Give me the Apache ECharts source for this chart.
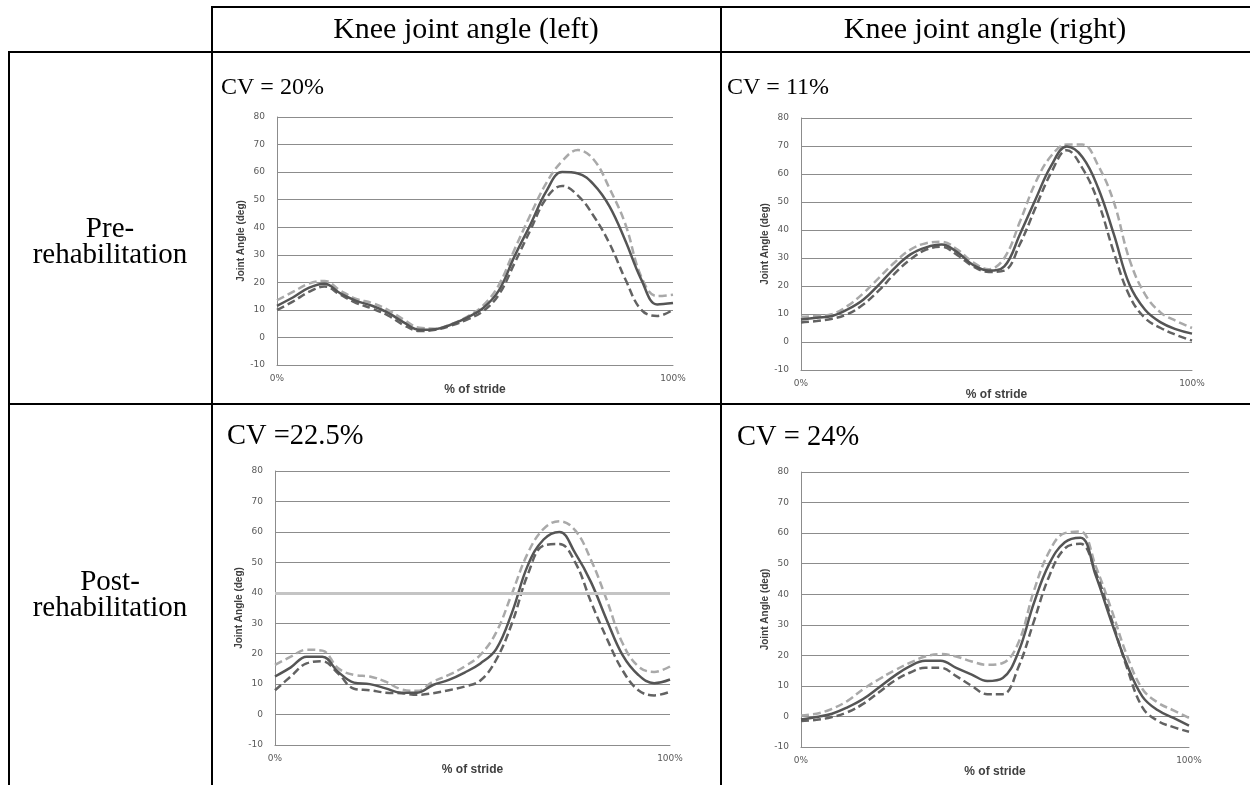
<!DOCTYPE html>
<html>
<head>
<meta charset="utf-8">
<script src="https://cdn.jsdelivr.net/npm/echarts@6/dist/echarts.min.js"></script>
<style>
  html, body { margin: 0; padding: 0; background: #fff; }
  #myChart { width: 1250px; height: 785px; }
</style>
</head>
<body>
<div id="myChart"></div>
<script>
// % of stride, every 4%
const stride = [0, 4, 8, 12, 16, 20, 24, 28, 32, 36, 40, 44, 48, 52, 56, 60, 64, 68, 72, 76, 80, 84, 88, 92, 96, 100]

// Pre-rehabilitation, left knee
const preLeftMean = [11.5, 14.5, 18, 19.5, 16, 13.3, 11.5, 9, 5.5, 2.8, 3, 4.7, 7.2, 10.6, 17, 29.5, 41, 53, 60, 59.5, 55.5, 47.5, 35, 21, 12, 12.5]
const preLeftUpper = [13.5, 16.5, 19.5, 20.5, 17, 14, 12.5, 10, 6.5, 3.5, 3.2, 4.8, 7.5, 11.5, 19, 32, 44.5, 56, 64, 68, 64.5, 54, 41, 22, 15, 15.5]
const preLeftLower = [10, 13, 16.5, 18.5, 15.5, 12.5, 10.5, 8, 4.5, 2.3, 2.8, 4.3, 6.5, 9.5, 15.5, 27, 39, 50.5, 55, 51.5, 44, 34, 21, 10, 7.8, 10]

// Pre-rehabilitation, right knee
const preRightMean = [8, 8.7, 9.3, 11.7, 15.2, 20.6, 26.5, 31.3, 33.8, 34.8, 32, 27.5, 25.5, 27, 38.5, 51, 63, 69.8, 66, 55, 38.5, 20.5, 11.5, 7, 4.5, 3]
const preRightUpper = [9, 9.3, 10, 13, 17.5, 23, 28.5, 33, 35.3, 35.8, 33, 28.5, 26, 30, 43, 57, 66.5, 70.5, 70.5, 63, 50, 29.5, 17, 10.5, 7.5, 5]
const preRightLower = [7, 7.5, 8.3, 10, 13.5, 18.5, 24.5, 29.5, 33, 34, 31, 27, 25, 25.5, 35, 48, 60.5, 68.5, 62, 50, 32, 16.5, 8.5, 5, 2.5, 0.5]

// Post-rehabilitation, left knee
const postLeftMean = [12.5, 15.5, 19, 19, 14, 10.5, 10, 8.6, 7.2, 7.2, 9.7, 11.4, 13.8, 16.8, 21.5, 33.5, 49, 57.5, 60, 53, 43.5, 31, 19.5, 13, 10.3, 11.5]
const postLeftUpper = [16.3, 19, 21.3, 21, 15.2, 13, 12.5, 10.8, 8.3, 7.8, 10.8, 13, 15.8, 19.6, 27, 39.8, 53, 61, 63.5, 60.5, 50.8, 37.6, 23.4, 15.8, 14, 15.8]
const postLeftLower = [8, 12.5, 16.8, 17.5, 13.5, 8.5, 8, 7.2, 7, 6.5, 7, 8, 9.2, 11.2, 18, 30, 46, 55.5, 56, 50, 37, 25, 14.5, 8, 6.3, 7.5]

// Post-rehabilitation, right knee
const postRightMean = [-1, -0.2, 0.9, 3, 5.7, 9.4, 13.2, 16.4, 18.2, 18.2, 15.9, 13.7, 11.6, 12.6, 21, 37, 50, 57, 58.5, 46, 31, 17, 6.5, 2, -0.5, -3]
const postRightUpper = [0.3, 0.9, 2.5, 5.1, 8.9, 12.1, 15, 17.5, 19.6, 20.4, 19.6, 18, 16.9, 17.5, 24, 41, 54, 60, 60.5, 49, 35, 20, 9, 4.5, 2, -0.5]
const postRightLower = [-1.5, -1.1, -0.2, 1.4, 4.1, 7.8, 11.6, 14.3, 15.9, 15.9, 13.2, 10, 7.3, 7.3, 16, 31, 46, 55, 56.5, 47, 32, 16, 3, -1.5, -3.5, -5]

const colHeaders = ['Knee joint angle (left)', 'Knee joint angle (right)']
const rowHeaders = ['Pre-\nrehabilitation', 'Post-\nrehabilitation']
const cvLabels = ['CV = 20%', 'CV = 11%', 'CV =22.5%', 'CV = 24%']

const panels = [
  { grid: { left: 277, top: 117, width: 396, height: 248 }, upper: preLeftUpper, lower: preLeftLower, mean: preLeftMean },
  { grid: { left: 801, top: 118, width: 391, height: 252 }, upper: preRightUpper, lower: preRightLower, mean: preRightMean },
  { grid: { left: 275, top: 471, width: 395, height: 274 }, upper: postLeftUpper, lower: postLeftLower, mean: postLeftMean },
  { grid: { left: 801, top: 472, width: 388, height: 275 }, upper: postRightUpper, lower: postRightLower, mean: postRightMean }
]

const gridColor = '#8c8c8c'
const tickFont = { color: '#595959', fontSize: 9, fontFamily: 'DejaVu Sans' }
const nameFont = { color: '#404040', fontWeight: 'bold', fontFamily: 'Liberation Sans' }
const serif = 'Liberation Serif'

const pairs = ys => stride.map((x, i) => [x, ys[i]])

const grid = []
const xAxis = []
const yAxis = []
const series = []

panels.forEach((p, i) => {
  grid.push(p.grid)
  xAxis.push({
    gridIndex: i,
    type: 'value',
    min: 0,
    max: 100,
    interval: 100,
    axisLine: { onZero: false, lineStyle: { color: gridColor } },
    axisTick: { show: false },
    splitLine: { show: false },
    axisLabel: Object.assign({ formatter: '{value}%', margin: 9 }, tickFont),
    name: '% of stride',
    nameLocation: 'middle',
    nameGap: 15,
    nameTextStyle: Object.assign({ fontSize: 12 }, nameFont)
  })
  yAxis.push({
    gridIndex: i,
    type: 'value',
    min: -10,
    max: 80,
    interval: 10,
    axisLine: { show: true, lineStyle: { color: gridColor } },
    axisTick: { show: false },
    splitLine: { lineStyle: { color: gridColor } },
    axisLabel: Object.assign({ margin: 12 }, tickFont),
    name: 'Joint Angle (deg)',
    nameLocation: 'middle',
    nameGap: 25,
    nameTextStyle: Object.assign({ fontSize: 10 }, nameFont)
  })
  const base = { type: 'line', xAxisIndex: i, yAxisIndex: i, smooth: 0.4, symbol: 'none', silent: true }
  const upper = Object.assign({}, base, { data: pairs(p.upper), lineStyle: { color: '#a9a9a9', width: 2.5, type: [8, 4] } })
  if (i === 2) {
    // the 40 gridline is drawn heavier in this panel
    upper.markLine = {
      silent: true, symbol: 'none', label: { show: false },
      lineStyle: { color: '#c4c4c4', width: 3, type: 'solid' },
      data: [{ yAxis: 40 }]
    }
  }
  series.push(upper)
  series.push(Object.assign({}, base, { data: pairs(p.lower), lineStyle: { color: '#626262', width: 2.5, type: [8, 4] } }))
  series.push(Object.assign({}, base, { data: pairs(p.mean), lineStyle: { color: '#555555', width: 2.5 } }))
})

// table lines and texts
const line = (x1, y1, x2, y2) => ({
  type: 'line', shape: { x1, y1, x2, y2 }, style: { stroke: '#000', lineWidth: 2 }
})
const text = (x, y, t, size, align) => ({
  type: 'text', x, y,
  style: { text: t, fontFamily: serif, fontSize: size, fill: '#000', align: align || 'center', verticalAlign: 'middle', lineHeight: 26 }
})

const graphic = [
  line(212, 7, 1250, 7),
  line(9, 52, 1250, 52),
  line(9, 404, 1250, 404),
  line(9, 51, 9, 785),
  line(212, 6, 212, 785),
  line(721, 6, 721, 785),
  text(466, 30, colHeaders[0], 30),
  text(985, 30, colHeaders[1], 30),
  text(110, 242, rowHeaders[0], 29),
  text(110, 595, rowHeaders[1], 29),
  text(221, 88, cvLabels[0], 24, 'left'),
  text(727, 88, cvLabels[1], 24, 'left'),
  text(227, 437, cvLabels[2], 28.5, 'left'),
  text(737, 438, cvLabels[3], 28.5, 'left')
]

const myChart = echarts.init(document.getElementById('myChart'))
myChart.setOption({
  animation: false,
  backgroundColor: '#fff',
  grid,
  xAxis,
  yAxis,
  series,
  graphic
})
</script>
</body>
</html>
